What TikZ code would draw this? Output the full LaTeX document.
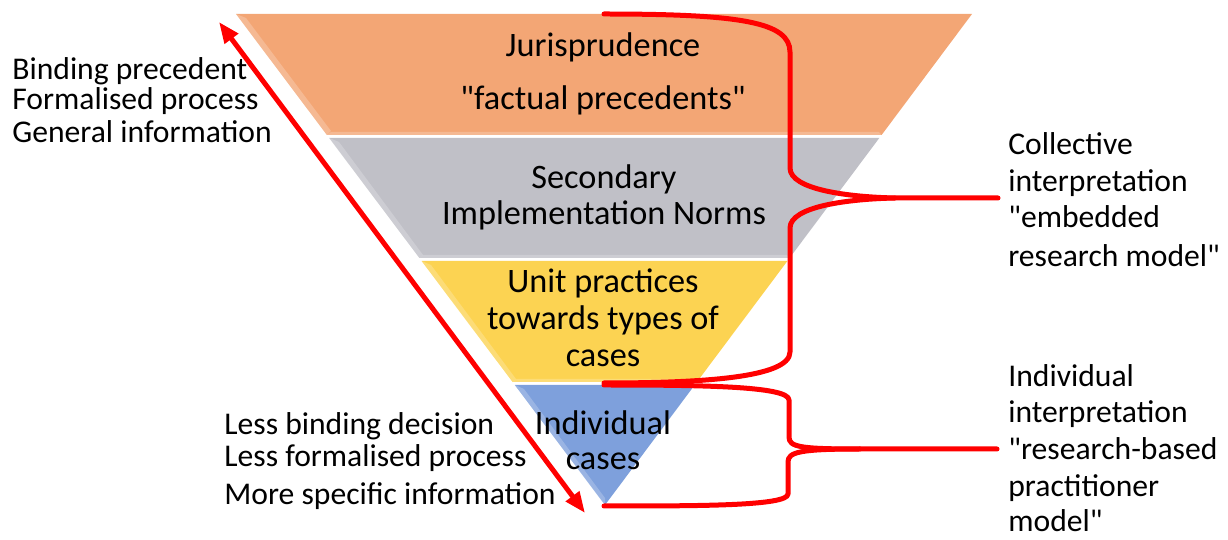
\documentclass[tikz,border=0pt]{standalone}
\usepackage{fontspec}
\setmainfont{Carlito}[Ligatures=TeXOff]
\usetikzlibrary{arrows.meta}
\definecolor{orangeband}{HTML}{F3A675}
\definecolor{grayband}{HTML}{C0C0C7}
\definecolor{yellowband}{HTML}{FCD352}
\definecolor{blueband}{HTML}{7EA0DC}
\definecolor{redline}{HTML}{FF0000}
\tikzset{
  lbl/.style={font=\fontsize{18pt}{21pt}\selectfont, inner sep=0pt, text=black},
  lblL/.style={lbl, anchor=base west},
  lblC/.style={lbl, font=\fontsize{19.5pt}{23pt}\selectfont, anchor=base},
  bevel/.style={fill=white, opacity=0.22, draw=none},
  redbrace/.style={draw=redline, line width=0.1cm, line join=round, line cap=round},
  redarrow/.style={draw=redline, line width=0.1cm, {Triangle[length=0.42cm,width=0.32cm]}-{Triangle[length=0.42cm,width=0.32cm]}}
}
\begin{document}
\begin{tikzpicture}[x=0.02cm, y=-0.02cm]
\useasboundingbox (0,0) rectangle (1228,540);
% bands
\fill[orangeband] (236,14) -- (972,14) -- (881.6,135) -- (326.9,135) -- cycle;
\fill[grayband] (329.2,138) -- (879.3,138) -- (789.6,258) -- (419.4,258) -- cycle;
\fill[yellowband] (421.6,261) -- (787.4,261) -- (696.9,382) -- (512.6,382) -- cycle;
\fill[blueband] (514.8,385) -- (694.7,385) -- (605,505) -- cycle;
% bevel highlights (left edges and bottom)
\fill[bevel] (236,14) -- (246,18) -- (331,131) -- (326.9,135) -- cycle;
\fill[bevel] (326.9,135) -- (881.6,135) -- (879,132) -- (331,132) -- cycle;
\fill[bevel] (329.2,138) -- (339,142) -- (423,255) -- (419.4,258) -- cycle;
\fill[bevel] (419.4,258) -- (789.6,258) -- (787,255) -- (423,255) -- cycle;
\fill[bevel] (421.6,261) -- (431,265) -- (516,379) -- (512.6,382) -- cycle;
\fill[bevel] (512.6,382) -- (696.9,382) -- (694,379) -- (516,379) -- cycle;
\fill[bevel] (514.8,385) -- (524,389) -- (605,498) -- (605,505) -- cycle;
% pyramid texts
\node[lblC] (jur) at (603,57) {Jurisprudence};
\node[lblC] (fact) at (603,110) {"factual precedents"};
\node[lblC] (sec1) at (604,189) {Secondary};
\node[lblC] (sec2) at (604,225) {Implementation Norms};
\node[lblC] (unit1) at (603,293) {Unit practices};
\node[lblC] (unit2) at (603,330) {towards types of};
\node[lblC] (unit3) at (603,367) {cases};
\node[lblC] (ind1) at (603,435) {Individual};
\node[lblC] (ind2) at (603,470) {cases};
% left texts
\node[lblL] (bind) at (12,80) {Binding precedent};
\node[lblL] (form) at (12,110) {Formalised process};
\node[lblL] (gen) at (12,143) {General information};
\node[lblL] (lessb) at (224,435) {Less binding decision};
\node[lblL] (lessf) at (224,467) {Less formalised process};
\node[lblL] (more) at (224,505) {More specific information};
% right texts
\node[lblL] (col1) at (1008,155) {Collective};
\node[lblL] (col2) at (1008,192) {interpretation};
\node[lblL] (col3) at (1008,228) {"embedded};
\node[lblL] (col4) at (1008,267) {research model"};
\node[lblL] (iin1) at (1008,387) {Individual};
\node[lblL] (iin2) at (1008,423) {interpretation};
\node[lblL] (iin3) at (1008,460) {"research-based};
\node[lblL] (iin4) at (1008,497) {practitioner};
\node[lblL] (iin5) at (1008,532) {model"};
% double arrow
\coordinate (atop) at (219,22);
\coordinate (abot) at (585,513);
\draw[redarrow] (atop) -- (abot);
% upper brace
\coordinate (b1top) at (604,14);
\coordinate (b1tip) at (998,198);
\coordinate (b1bot) at (604,383);
\draw[redbrace] (b1top) .. controls (740,14) and (790,22) .. (790,52)
  -- (790,168) .. controls (790,190) and (850,197) .. (895,198) -- (b1tip);
\draw[redbrace] (895,198) .. controls (850,199) and (790,206) .. (790,228)
  -- (790,352) .. controls (790,378) and (700,383) .. (b1bot);
% lower brace
\coordinate (b2top) at (604,385);
\coordinate (b2tip) at (997,449);
\coordinate (b2bot) at (604,506);
\draw[redbrace] (b2top) .. controls (700,385) and (789,386) .. (789,400)
  -- (789,437) .. controls (789,447) and (800,449) .. (860,449) -- (b2tip);
\draw[redbrace] (860,449) .. controls (800,449) and (788,452) .. (788,462)
  -- (788,494) .. controls (788,506) and (700,506) .. (b2bot);
\end{tikzpicture}
\end{document}
